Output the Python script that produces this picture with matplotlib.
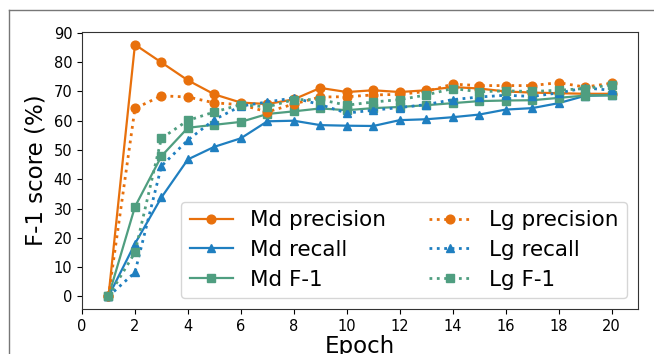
import numpy as np
import matplotlib
matplotlib.use("Agg")
import matplotlib.pyplot as plt
from matplotlib.lines import Line2D

epochs = list(range(1, 21))

md_precision = [0, 86.0, 79.9, 73.8, 69.0, 66.2, 65.7, 67.3, 71.2, 69.8,
                70.4, 69.8, 70.4, 71.5, 71.0, 70.0, 69.6, 69.4, 69.2, 69.2]
md_recall = [0, 18.0, 33.8, 46.8, 51.1, 54.0, 59.8, 60.0, 58.5, 58.3,
             58.2, 60.2, 60.5, 61.2, 62.1, 63.8, 64.3, 66.0, 68.5, 68.7]
md_f1 = [0, 30.6, 47.9, 57.6, 58.6, 59.6, 62.3, 63.2, 64.2, 63.6,
         64.3, 64.7, 65.3, 66.0, 66.7, 66.9, 67.0, 67.8, 68.6, 68.7]

lg_precision = [0, 64.2, 68.5, 68.1, 66.1, 65.5, 63.0, 65.7, 68.1, 68.2,
                68.8, 69.0, 70.0, 72.5, 72.0, 72.0, 72.0, 73.0, 71.5, 72.8]
lg_recall = [0, 8.2, 44.5, 53.4, 60.4, 65.0, 66.4, 67.8, 65.5, 62.6,
             63.6, 64.5, 65.5, 67.2, 68.1, 68.7, 68.3, 69.5, 71.2, 70.4]
lg_f1 = [0, 15.0, 54.0, 60.1, 63.0, 65.5, 64.7, 67.2, 67.2, 65.3,
         66.4, 67.2, 68.8, 71.0, 69.9, 70.2, 70.0, 70.4, 71.0, 72.2]

orange = '#e8700c'
blue = '#1f7fc0'
green = '#4f9e80'

fig = plt.figure(figsize=(6.54, 3.54), dpi=100)
ax = fig.add_axes([82/654, 45/354, 556/654, 277/354])

ax.plot(epochs, md_precision, '-', marker='o', color=orange, lw=1.6, ms=6.3, label='Md precision')
ax.plot(epochs, md_recall, '-', marker='^', color=blue, lw=1.6, ms=6.3, label='Md recall')
ax.plot(epochs, md_f1, '-', marker='s', color=green, lw=1.6, ms=6.3, label='Md F-1')
ax.plot(epochs, lg_precision, ':', marker='o', color=orange, lw=2, ms=6.3, label='Lg precision')
ax.plot(epochs, lg_recall, ':', marker='^', color=blue, lw=2, ms=6.3, label='Lg recall')
ax.plot(epochs, lg_f1, ':', marker='s', color=green, lw=2, ms=6.3, label='Lg F-1')

ax.set_xlim(0, 21)
ax.set_ylim(-4.3, 90.3)
ax.set_xticks(range(0, 21, 2))
ax.set_yticks(range(0, 91, 10))
ax.tick_params(labelsize=10.5)
for s in ax.spines.values():
    s.set_color('#333333')

ax.set_xlabel('Epoch', fontsize=16.5, labelpad=1)
ax.set_ylabel('F-1 score (%)', fontsize=16.5)

ax.legend(loc='lower right', ncol=2, fontsize=15.5, handlelength=2.0,
          borderpad=0.4, labelspacing=0.45, columnspacing=2.0)

# grey frame of the screenshot
fig.add_artist(Line2D([9/654, 9/654], [0, 1 - 10/354], color='#777777', lw=1))
fig.add_artist(Line2D([9/654, 1], [1 - 10/354, 1 - 10/354], color='#777777', lw=1))

fig.savefig('out.png', dpi=100)
